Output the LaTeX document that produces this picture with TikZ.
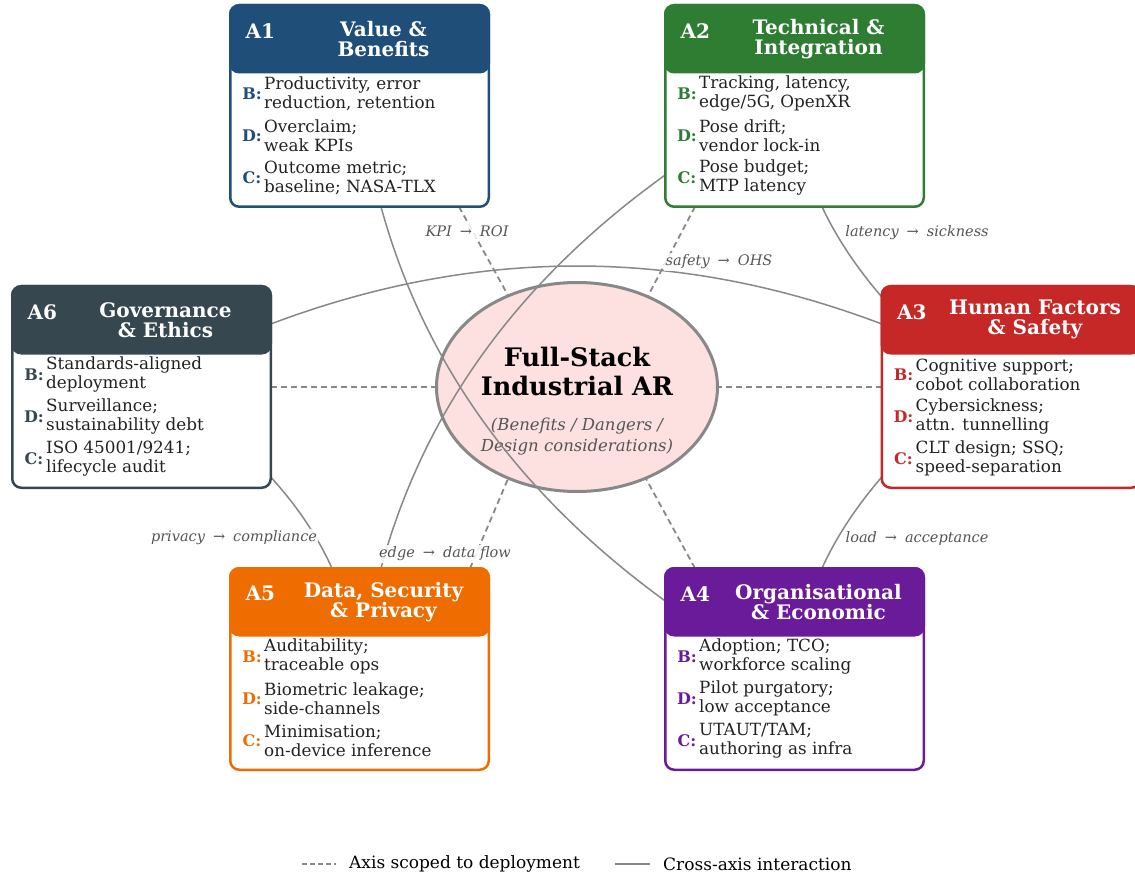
\documentclass[tikz,border=0pt]{standalone}
\usepackage{fontspec}
\setmainfont{DejaVu Serif}[UprightFont={DejaVu Serif}, BoldFont={DejaVu Serif Bold}, ItalicFont={DejaVu Serif Italic}, BoldItalicFont={DejaVu Serif Bold Italic}]
\usetikzlibrary{shapes.geometric}
\pgfdeclarelayer{spokes}
\pgfdeclarelayer{hub}
\pgfdeclarelayer{cross}
\pgfsetlayers{spokes,hub,cross,main}
\definecolor{cA}{HTML}{1F4E79}
\definecolor{cB}{HTML}{2E7D32}
\definecolor{cC}{HTML}{C62828}
\definecolor{cD}{HTML}{6A1B9A}
\definecolor{cE}{HTML}{EF6C00}
\definecolor{cF}{HTML}{37474F}
\definecolor{txt}{HTML}{222222}
\definecolor{lab}{HTML}{555555}
\definecolor{lin}{HTML}{888888}
\definecolor{corefill}{HTML}{FDE0E0}
\newcommand{\arrw}{\hspace{8pt}{\upshape→}\hspace{8pt}}
\tikzset{
 panel/.style={draw, line width=2.5pt, fill=white, rounded corners=9pt, minimum width=258.5pt, minimum height=201.5pt, outer sep=0pt, inner sep=0pt},
 header/.style={line width=2.5pt, rounded corners=9pt, minimum width=258.5pt, minimum height=67pt, anchor=north, outer sep=0pt, inner sep=0pt},
 tagst/.style={text=white, font=\fontsize{20}{20}\selectfont\bfseries, inner sep=0pt},
 titlest/.style={text=white, font=\fontsize{20}{20}\selectfont\bfseries, align=center, inner sep=0pt},
 rowlab/.style={font=\fontsize{16}{19}\selectfont\bfseries, inner sep=0pt},
 rowtxt/.style={font=\fontsize{16.8}{19}\selectfont, text=txt, align=left, anchor=west, inner sep=0pt},
 spoke/.style={draw=lin, line width=1.8pt, dash pattern=on 6pt off 4pt},
 crossline/.style={draw=lin, line width=1.5pt},
 elabel/.style={font=\fontsize{14.5}{16}\selectfont\itshape, text=lab, fill=white, fill opacity=0.85, text opacity=1, inner sep=1.5pt},
 legtxt/.style={font=\fontsize{17}{18}\selectfont, text=black, anchor=west, inner sep=0pt},
}
\newcommand{\axbox}[9]{%
 \node[panel, draw=#2] (#1) at (#3,#4) {};
 \node[header, fill=#2, draw=#2] (#1h) at (#1.north) {};
 \node[tagst] (#1t) at ([xshift=30pt, yshift=8pt]#1h.west) {#5};
 \node[titlest] (#1ti) at ([xshift=24pt]#1h.center) {#6};
 \node[rowlab, text=#2] (#1bl) at ([xshift=21.75pt, yshift=-88.25pt]#1.north west) {B:};
 \node[rowtxt] (#1bt) at ([xshift=33.75pt, yshift=-88.25pt]#1.north west) {#7};
 \node[rowlab, text=#2] (#1dl) at ([xshift=21.75pt, yshift=-130.25pt]#1.north west) {D:};
 \node[rowtxt] (#1dt) at ([xshift=33.75pt, yshift=-130.25pt]#1.north west) {#8};
 \node[rowlab, text=#2] (#1cl) at ([xshift=21.75pt, yshift=-172.25pt]#1.north west) {C:};
 \node[rowtxt] (#1ct) at ([xshift=33.75pt, yshift=-172.25pt]#1.north west) {#9};
}
\begin{document}
\begin{tikzpicture}[x=1pt,y=-1pt]
\begin{pgfonlayer}{spokes}
\fill[white] (0,0) rectangle (1135,877);
\end{pgfonlayer}
\useasboundingbox (0,0) rectangle (1135,877);
% boxes
\axbox{A1}{cA}{359.5}{106}{A1}{Value \&\\Benefits}{Productivity, error\\reduction, retention}{Overclaim;\\weak KPIs}{Outcome metric;\\baseline; NASA-TLX}
\axbox{A2}{cB}{794.5}{106}{A2}{Technical \&\\Integration}{Tracking, latency,\\edge/5G, OpenXR}{Pose drift;\\vendor lock-in}{Pose budget;\\MTP latency}
\axbox{A3}{cC}{1011}{387}{A3}{Human Factors\\\& Safety}{Cognitive support;\\cobot collaboration}{Cybersickness;\\attn. tunnelling}{CLT design; SSQ;\\speed-separation}
\axbox{A4}{cD}{794.5}{669}{A4}{Organisational\\\& Economic}{Adoption; TCO;\\workforce scaling}{Pilot purgatory;\\low acceptance}{UTAUT/TAM;\\authoring as infra}
\axbox{A5}{cE}{359.5}{669}{A5}{Data, Security\\\& Privacy}{Auditability;\\traceable ops}{Biometric leakage;\\side-channels}{Minimisation;\\on-device inference}
\axbox{A6}{cF}{141.5}{387}{A6}{Governance\\\& Ethics}{Standards-aligned\\deployment}{Surveillance;\\sustainability debt}{ISO 45001/9241;\\lifecycle audit}
% core
\begin{pgfonlayer}{hub}
\node[ellipse, draw=lin, fill=corefill, line width=3pt, minimum width=281pt, minimum height=209pt, inner sep=0pt, outer sep=0pt] (core) at (577,387) {};
\node[font=\fontsize{25.5}{29}\selectfont\bfseries, align=center, inner sep=0pt] (coreT) at (577,371) {Full-Stack\\Industrial AR};
\node[font=\fontsize{16.5}{21}\selectfont\itshape, text=lab, align=center, inner sep=0pt] (coreS) at (577,437) {(Benefits / Dangers /\\Design considerations)};
\end{pgfonlayer}
% spokes
\begin{pgfonlayer}{spokes}
\draw[spoke] ([xshift=99.5pt]A1.south) -- (core.127.6);
\draw[spoke] ([xshift=-99.5pt]A2.south) -- (core.52.4);
\draw[spoke] ([xshift=110.5pt]A5.north) -- (core.233);
\draw[spoke] ([xshift=-99.5pt]A4.north) -- (core.-53);
\draw[spoke] (A6.east) -- (core.west);
\draw[spoke] (A3.west) -- (core.east);
\end{pgfonlayer}
% cross-axis curves
\begin{pgfonlayer}{cross}
\draw[crossline] ([xshift=21.5pt]A1.south) .. controls (423.7,362.7) and (517.7,493.7) .. ([yshift=68pt]A4.west);
\draw[crossline] ([yshift=-69pt]A2.west) .. controls (517.7,281) and (423.7,411.3) .. ([xshift=21.5pt]A5.north);
\draw[crossline] ([yshift=63pt]A6.east) .. controls (475.7,246.7) and (678.3,246.7) .. ([yshift=63pt]A3.west);
\draw[crossline] ([xshift=27.5pt]A2.south) .. controls (836.3,237.2) and (856,266.9) .. ([yshift=90pt]A3.west);
\draw[crossline] ([yshift=-90pt]A3.west) .. controls (856,507.1) and (836.3,536.8) .. ([xshift=27.5pt]A4.north);
\draw[crossline] ([yshift=-90pt]A6.east) .. controls (298,507.1) and (317.7,536.8) .. ([xshift=-27.5pt]A5.north);
\end{pgfonlayer}
% edge labels
\node[elabel] (l1) at (467,231) {KPI\arrw ROI};
\node[elabel] (l2) at (917,233) {latency\arrw sickness};
\node[elabel] (l3) at (719,262) {safety\arrw OHS};
\node[elabel] (l4) at (234,538) {privacy\arrw compliance};
\node[elabel] (l5) at (445,554) {edge\arrw data flow};
\node[elabel] (l6) at (917,538) {load\arrw acceptance};
% legend
\coordinate (lgA1) at (302,864);
\coordinate (lgA2) at (336,864);
\coordinate (lgB1) at (615,864);
\coordinate (lgB2) at (650,864);
\draw[spoke, dash pattern=on 5pt off 3pt] (lgA1) -- (lgA2);
\draw[crossline] (lgB1) -- (lgB2);
\node[legtxt] (lgAt) at (349,864) {Axis scoped to deployment};
\node[legtxt] (lgBt) at (663,864) {Cross-axis interaction};
\end{tikzpicture}
\end{document}
